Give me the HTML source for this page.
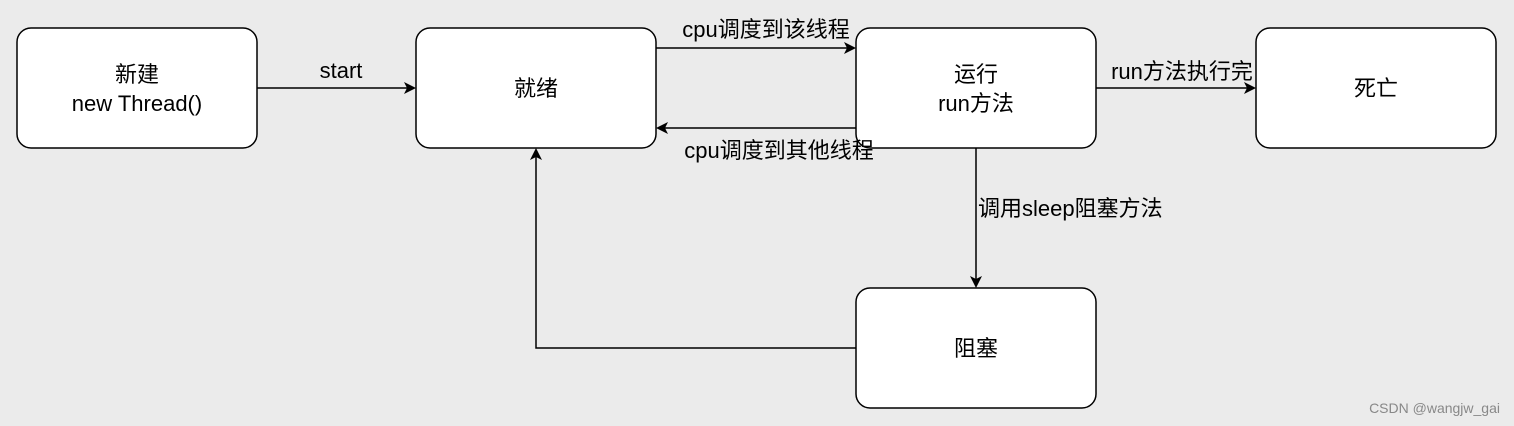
<!DOCTYPE html>
<html><head><meta charset="utf-8"><style>
html,body{margin:0;padding:0;background:#ebebeb;}
svg{display:block;font-family:"Liberation Sans","Noto Sans CJK SC",sans-serif;}
</style></head><body>
<svg width="1514" height="426" viewBox="0 0 1514 426" xmlns="http://www.w3.org/2000/svg">
<defs><marker id="a" markerWidth="12" markerHeight="12" refX="10" refY="6" orient="auto" markerUnits="userSpaceOnUse">
<path d="M0,0 L12,6 L0,12 L3,6 Z" fill="#000"/></marker></defs>
<rect width="1514" height="426" fill="#ebebeb"/>
<g fill="#fff" stroke="#000" stroke-width="1.5">
<rect x="17" y="28" width="240" height="120" rx="14"/>
<rect x="416" y="28" width="240" height="120" rx="14"/>
<rect x="856" y="28" width="240" height="120" rx="14"/>
<rect x="1256" y="28" width="240" height="120" rx="14"/>
<rect x="856" y="288" width="240" height="120" rx="14"/>
</g>
<g stroke="#000" stroke-width="1.5" fill="none" marker-end="url(#a)">
<line x1="257" y1="88" x2="414" y2="88"/>
<line x1="656" y1="48" x2="854" y2="48"/>
<line x1="856" y1="128" x2="658" y2="128"/>
<line x1="1096" y1="88" x2="1254" y2="88"/>
<line x1="976" y1="148" x2="976" y2="286"/>
<polyline points="856,348 536,348 536,150"/>
</g>
<g font-size="22" fill="#000" text-anchor="middle">
<text x="137" y="82">新建</text>
<text x="137" y="111">new Thread()</text>
<text x="536" y="96">就绪</text>
<text x="976" y="82">运行</text>
<text x="976" y="111">run方法</text>
<text x="1376" y="96">死亡</text>
<text x="976" y="356">阻塞</text>
<text x="341" y="78">start</text>
<text x="766" y="37">cpu调度到该线程</text>
<text x="779" y="158">cpu调度到其他线程</text>
<text x="1182" y="79">run方法执行完</text>
<text x="978" y="216" text-anchor="start">调用sleep阻塞方法</text>
</g>
<text x="1500" y="413" font-size="14" fill="#888" text-anchor="end">CSDN @wangjw_gai</text>
</svg>
</body></html>
